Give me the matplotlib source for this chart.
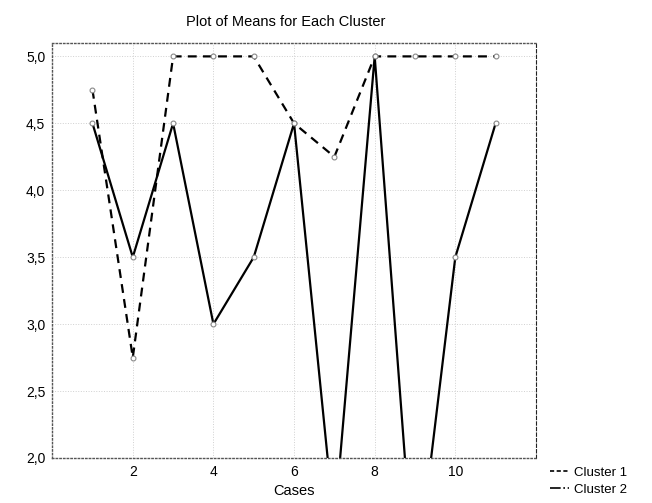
import numpy as np
import matplotlib
matplotlib.use('Agg')
import matplotlib.pyplot as plt
from matplotlib.lines import Line2D

plt.rcParams['font.family'] = ['Liberation Sans', 'DejaVu Sans']

cases = [1, 2, 3, 4, 5, 6, 7, 8, 9, 10, 11]
cluster1 = [4.75, 2.75, 5.0, 5.0, 5.0, 4.5, 4.25, 5.0, 5.0, 5.0, 5.0]
cluster2 = [4.5, 3.5, 4.5, 3.0, 3.5, 4.5, 1.5, 5.0, 1.0, 3.5, 4.5]
yticks = [2.0, 2.5, 3.0, 3.5, 4.0, 4.5, 5.0]
xticks = [2, 4, 6, 8, 10]

fig = plt.figure(figsize=(6.52, 5.03), dpi=100)
ax = fig.add_axes([0.080, 0.0895, 0.742, 0.825])

ax.plot(cases, cluster1, color='black', lw=1.6, dashes=(4, 2.8),
        marker='o', ms=3.5, mfc='white', mec='#888888', mew=0.8)
ax.plot(cases, cluster2, color='black', lw=1.6,
        marker='o', ms=3.5, mfc='white', mec='#888888', mew=0.8)

ax.set_xlim(0, 12)
ax.set_ylim(2.0, 5.1)
ax.set_xticks(xticks)
ax.set_yticks(yticks)
ax.set_yticklabels([('%.1f' % v).replace('.', ',') for v in yticks])
ax.tick_params(length=0, labelsize=10, pad=5)
ax.grid(True, color='#d0d0d0', ls=':', lw=0.7)

for s in ['left', 'bottom', 'top']:
    ax.spines[s].set_linestyle(':')
    ax.spines[s].set_color('#555555')
    ax.spines[s].set_linewidth(1.0)
ax.spines['right'].set_linestyle((0, (3, 2)))
ax.spines['right'].set_color('#222222')

ax.set_title('Plot of Means for Each Cluster', fontsize=10.5, pad=12, x=0.483)
ax.set_xlabel('Cases', fontsize=10.5, labelpad=4)

# legend keys drawn as in the scanned original
h1 = Line2D([], [], color='black', lw=1.2, dashes=(2.5, 1.5))
h2 = Line2D([], [], color='black', lw=1.2, ls='-.')
fig.legend(handles=[h1, h2], labels=['Cluster 1', 'Cluster 2'],
           loc='lower left', bbox_to_anchor=(0.83, -0.004),
           frameon=False, fontsize=9.5, handlelength=1.4, handletextpad=0.4,
           labelspacing=0.35, borderpad=0.2)

fig.savefig('out.png', dpi=100)
